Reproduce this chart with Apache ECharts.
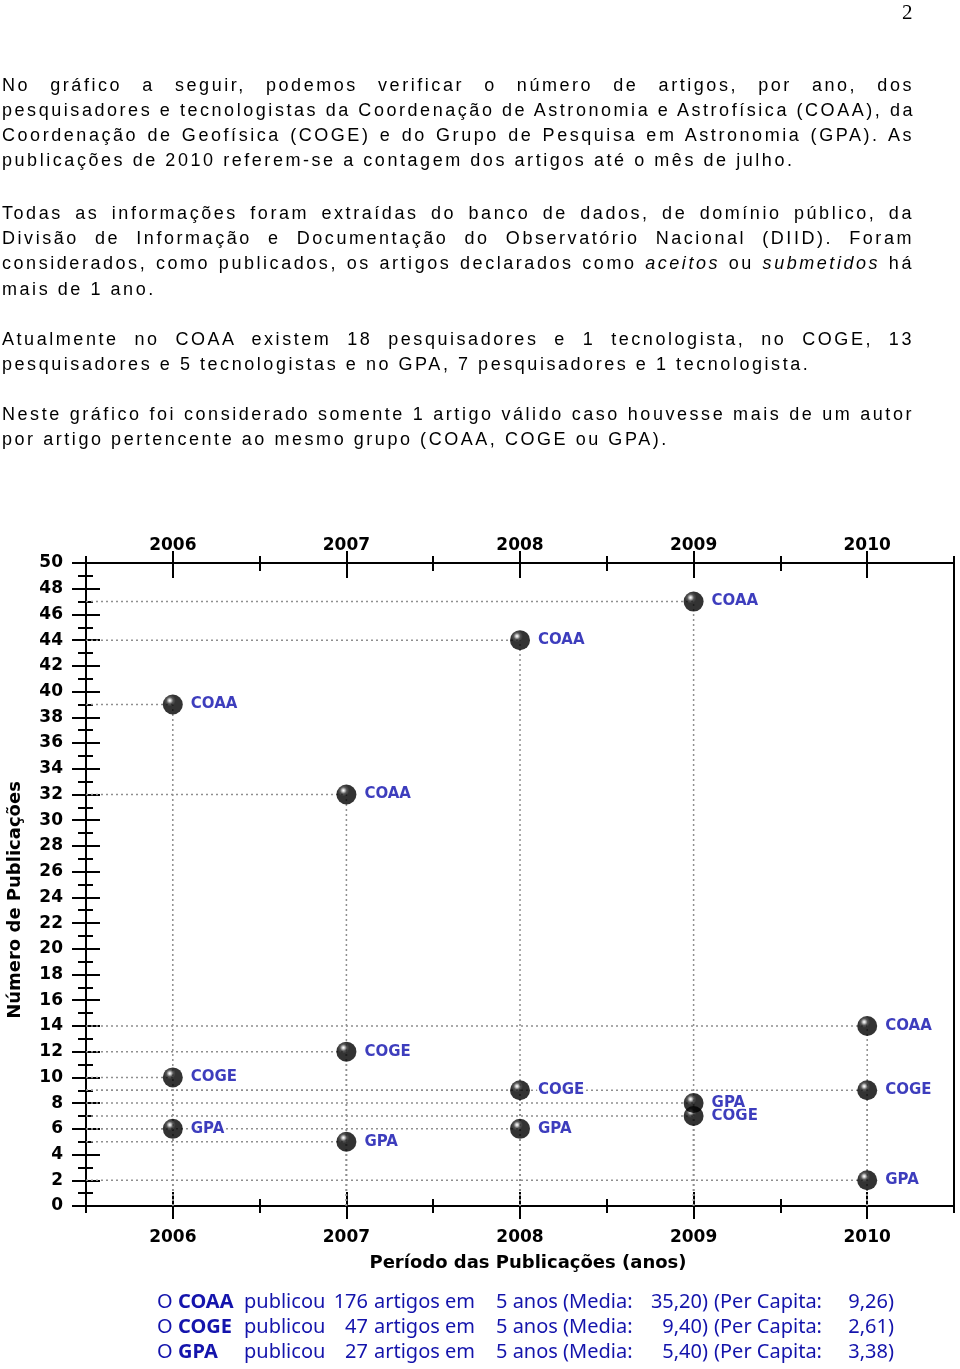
<!DOCTYPE html>
<html><head><meta charset="utf-8">
<script src="https://cdn.jsdelivr.net/npm/echarts@6/dist/echarts.min.js"></script>
<style>
html,body{margin:0;padding:0;background:#fff;}
#wrap{position:relative;width:960px;height:1369px;overflow:hidden;}
#chart{position:absolute;left:0;top:0;width:960px;height:1369px;}
.t{position:absolute;left:2px;width:912px;font-family:"Liberation Sans",Arial,sans-serif;font-size:18px;letter-spacing:2.55px;line-height:25px;white-space:nowrap;color:#000;}
.j{text-align:justify;text-align-last:justify;}
#pg{position:absolute;left:902px;top:0px;font-family:"Liberation Serif",serif;font-size:21px;line-height:24px;}
</style></head>
<body><div id="wrap">
<div id="chart"></div>
<div id="pg">2</div>
<div class="t j" style="top:73px">No gráfico a seguir, podemos verificar o número de artigos, por ano, dos</div>
<div class="t j" style="top:98px">pesquisadores e tecnologistas da Coordenação de Astronomia e Astrofísica (COAA), da</div>
<div class="t j" style="top:123px">Coordenação de Geofísica (COGE) e do Grupo de Pesquisa em Astronomia (GPA). As</div>
<div class="t" style="top:148px">publicações de 2010 referem-se a contagem dos artigos até o mês de julho.</div>
<div class="t j" style="top:201px">Todas as informações foram extraídas do banco de dados, de domínio público, da</div>
<div class="t j" style="top:226px">Divisão de Informação e Documentação do Observatório Nacional (DIID). Foram</div>
<div class="t j" style="top:251px">considerados, como publicados, os artigos declarados como <i>aceitos</i> ou <i>submetidos</i> há</div>
<div class="t" style="top:277px">mais de 1 ano.</div>
<div class="t j" style="top:327px">Atualmente no COAA existem 18 pesquisadores e 1 tecnologista, no COGE, 13</div>
<div class="t" style="top:352px">pesquisadores e 5 tecnologistas e no GPA, 7 pesquisadores e 1 tecnologista.</div>
<div class="t j" style="top:402px">Neste gráfico foi considerado somente 1 artigo válido caso houvesse mais de um autor</div>
<div class="t" style="top:427px">por artigo pertencente ao mesmo grupo (COAA, COGE ou GPA).</div>
</div>
<script>
// ---- data ----
const years = ['2006', '2007', '2008', '2009', '2010'];
const groupNames = ['COAA', 'COGE', 'GPA'];
const coaa = [39, 32, 44, 47, 14];
const coge = [10, 12, 9, 7, 9];
const gpa = [6, 5, 6, 8, 2];
const staffCounts = [19, 18, 8];
const yMin = 0, yMax = 50, yStep = 2;

const groupValues = [coaa, coge, gpa];
const chart = echarts.init(document.getElementById('chart'));
const FONT = '"DejaVu Sans", Verdana, sans-serif';
const labelBlue = '#0c0cac';
const sumBlue = '#1414ac';

const sphere = new echarts.graphic.RadialGradient(0.35, 0.3, 0.7, [
  {offset: 0, color: '#ffffff'},
  {offset: 0.08, color: '#cfcfcf'},
  {offset: 0.24, color: '#2c2c2c'},
  {offset: 0.42, color: '#000000'},
  {offset: 1, color: '#000000'}
]);

const tickStyle = {color: '#000', width: 2};
function xAx(pos, opts) {
  return Object.assign({
    type: 'category', data: years, position: pos, boundaryGap: true,
    axisLine: {show: false, onZero: false},
    axisTick: {show: false},
    axisLabel: {show: false},
    splitLine: {show: false}
  }, opts);
}
function yAx(opts) {
  return Object.assign({
    type: 'value', min: yMin, max: yMax, interval: yStep, position: 'left',
    axisLine: {show: false, onZero: false},
    axisTick: {show: false},
    axisLabel: {show: false},
    splitLine: {show: false}
  }, opts);
}
const xLabel = {show: true, interval: 0, fontFamily: FONT, fontWeight: 'bold', fontSize: 17, color: '#000'};

const lineData = [];
groupValues.forEach(arr => arr.forEach((v, i) => lineData.push([i, v])));

const series = [{
  type: 'custom',
  silent: true,
  z: 1,
  data: lineData,
  renderItem: function (params, api) {
    const cs = params.coordSys;
    const p = api.coord([api.value(0), api.value(1)]);
    const bottom = cs.y + cs.height;
    const st = {stroke: '#8f8f8f', lineWidth: 1.5, lineDash: [2, 3], fill: null};
    return {type: 'group', children: [
      {type: 'line', shape: {x1: cs.x, y1: p[1], x2: p[0], y2: p[1]}, style: st},
      {type: 'line', shape: {x1: p[0], y1: bottom, x2: p[0], y2: p[1]}, style: st}
    ]};
  }
}];
groupNames.forEach((name, gi) => {
  series.push({
    type: 'scatter', name: name, z: 3, silent: true,
    data: groupValues[gi].map((v, i) => [i, v]),
    symbol: 'circle', symbolSize: 20,
    itemStyle: {color: sphere},
    label: {
      show: true, position: 'right', distance: 7, formatter: name,
      color: labelBlue, fontFamily: FONT, fontWeight: 'bold', fontSize: 15,
      lineHeight: 12, backgroundColor: '#fff', padding: [0, 1]
    },
    emphasis: {disabled: true}
  });
});

const graphics = [
  {type: 'text', x: 15, y: 900, rotation: Math.PI / 2,
   style: {text: 'Número de Publicações', fontFamily: FONT, fontWeight: 'bold', fontSize: 18, fill: '#000', align: 'center', verticalAlign: 'middle'}},
  {type: 'text', x: 528, y: 1263,
   style: {text: 'Período das Publicações (anos)', fontFamily: FONT, fontWeight: 'bold', fontSize: 18, fill: '#000', align: 'center', verticalAlign: 'middle'}}
];
function fmt(n) { return n.toFixed(2).replace('.', ','); }
groupNames.forEach((name, gi) => {
  const total = groupValues[gi].reduce((a, b) => a + b, 0);
  const mean = total / years.length;
  const pc = total / staffCounts[gi];
  const y = 1302 + gi * 25;
  const segs = [
    [157, 'O', 'left', 'normal'],
    [178, name, 'left', 'bold'],
    [244, 'publicou', 'left', 'normal'],
    [368, String(total), 'right', 'normal'],
    [374, 'artigos em', 'left', 'normal'],
    [496, years.length + ' anos (Media:', 'left', 'normal'],
    [708, fmt(mean) + ')', 'right', 'normal'],
    [714, '(Per Capita:', 'left', 'normal'],
    [894, fmt(pc) + ')', 'right', 'normal']
  ];
  segs.forEach(s => graphics.push({
    type: 'text', x: s[0], y: y,
    style: {text: s[1], fontFamily: '"Noto Sans", sans-serif', fontSize: 20, fontWeight: s[3], fill: sumBlue, align: s[2], verticalAlign: 'middle'}
  }));
});

chart.setOption({
  animation: false,
  grid: {left: 86, right: 6, top: 563, bottom: 163, show: true, borderColor: '#000', borderWidth: 2, backgroundColor: 'transparent', containLabel: false, outerBoundsMode: 'none'},
  xAxis: [
    xAx('bottom', {axisLabel: Object.assign({margin: 23}, xLabel)}),
    xAx('bottom', {offset: -14, axisTick: {show: true, interval: 0, alignWithLabel: true, length: 27, lineStyle: tickStyle}}),
    xAx('bottom', {offset: -7, axisTick: {show: true, interval: 0, length: 14, lineStyle: tickStyle}}),
    xAx('top', {axisLabel: Object.assign({margin: 9}, xLabel)}),
    xAx('top', {offset: -15, axisTick: {show: true, interval: 0, alignWithLabel: true, length: 27, lineStyle: tickStyle}}),
    xAx('top', {offset: -8, axisTick: {show: true, interval: 0, length: 15, lineStyle: tickStyle}})
  ],
  yAxis: [
    yAx({axisLabel: {show: true, margin: 23, fontFamily: FONT, fontWeight: 'bold', fontSize: 17, color: '#000'}}),
    yAx({offset: -14, axisTick: {show: true, length: 28, lineStyle: tickStyle}}),
    yAx({offset: -7, interval: 1, axisTick: {show: true, length: 15, lineStyle: tickStyle}})
  ],
  series: series,
  graphic: graphics
});
</script>
</body></html>
